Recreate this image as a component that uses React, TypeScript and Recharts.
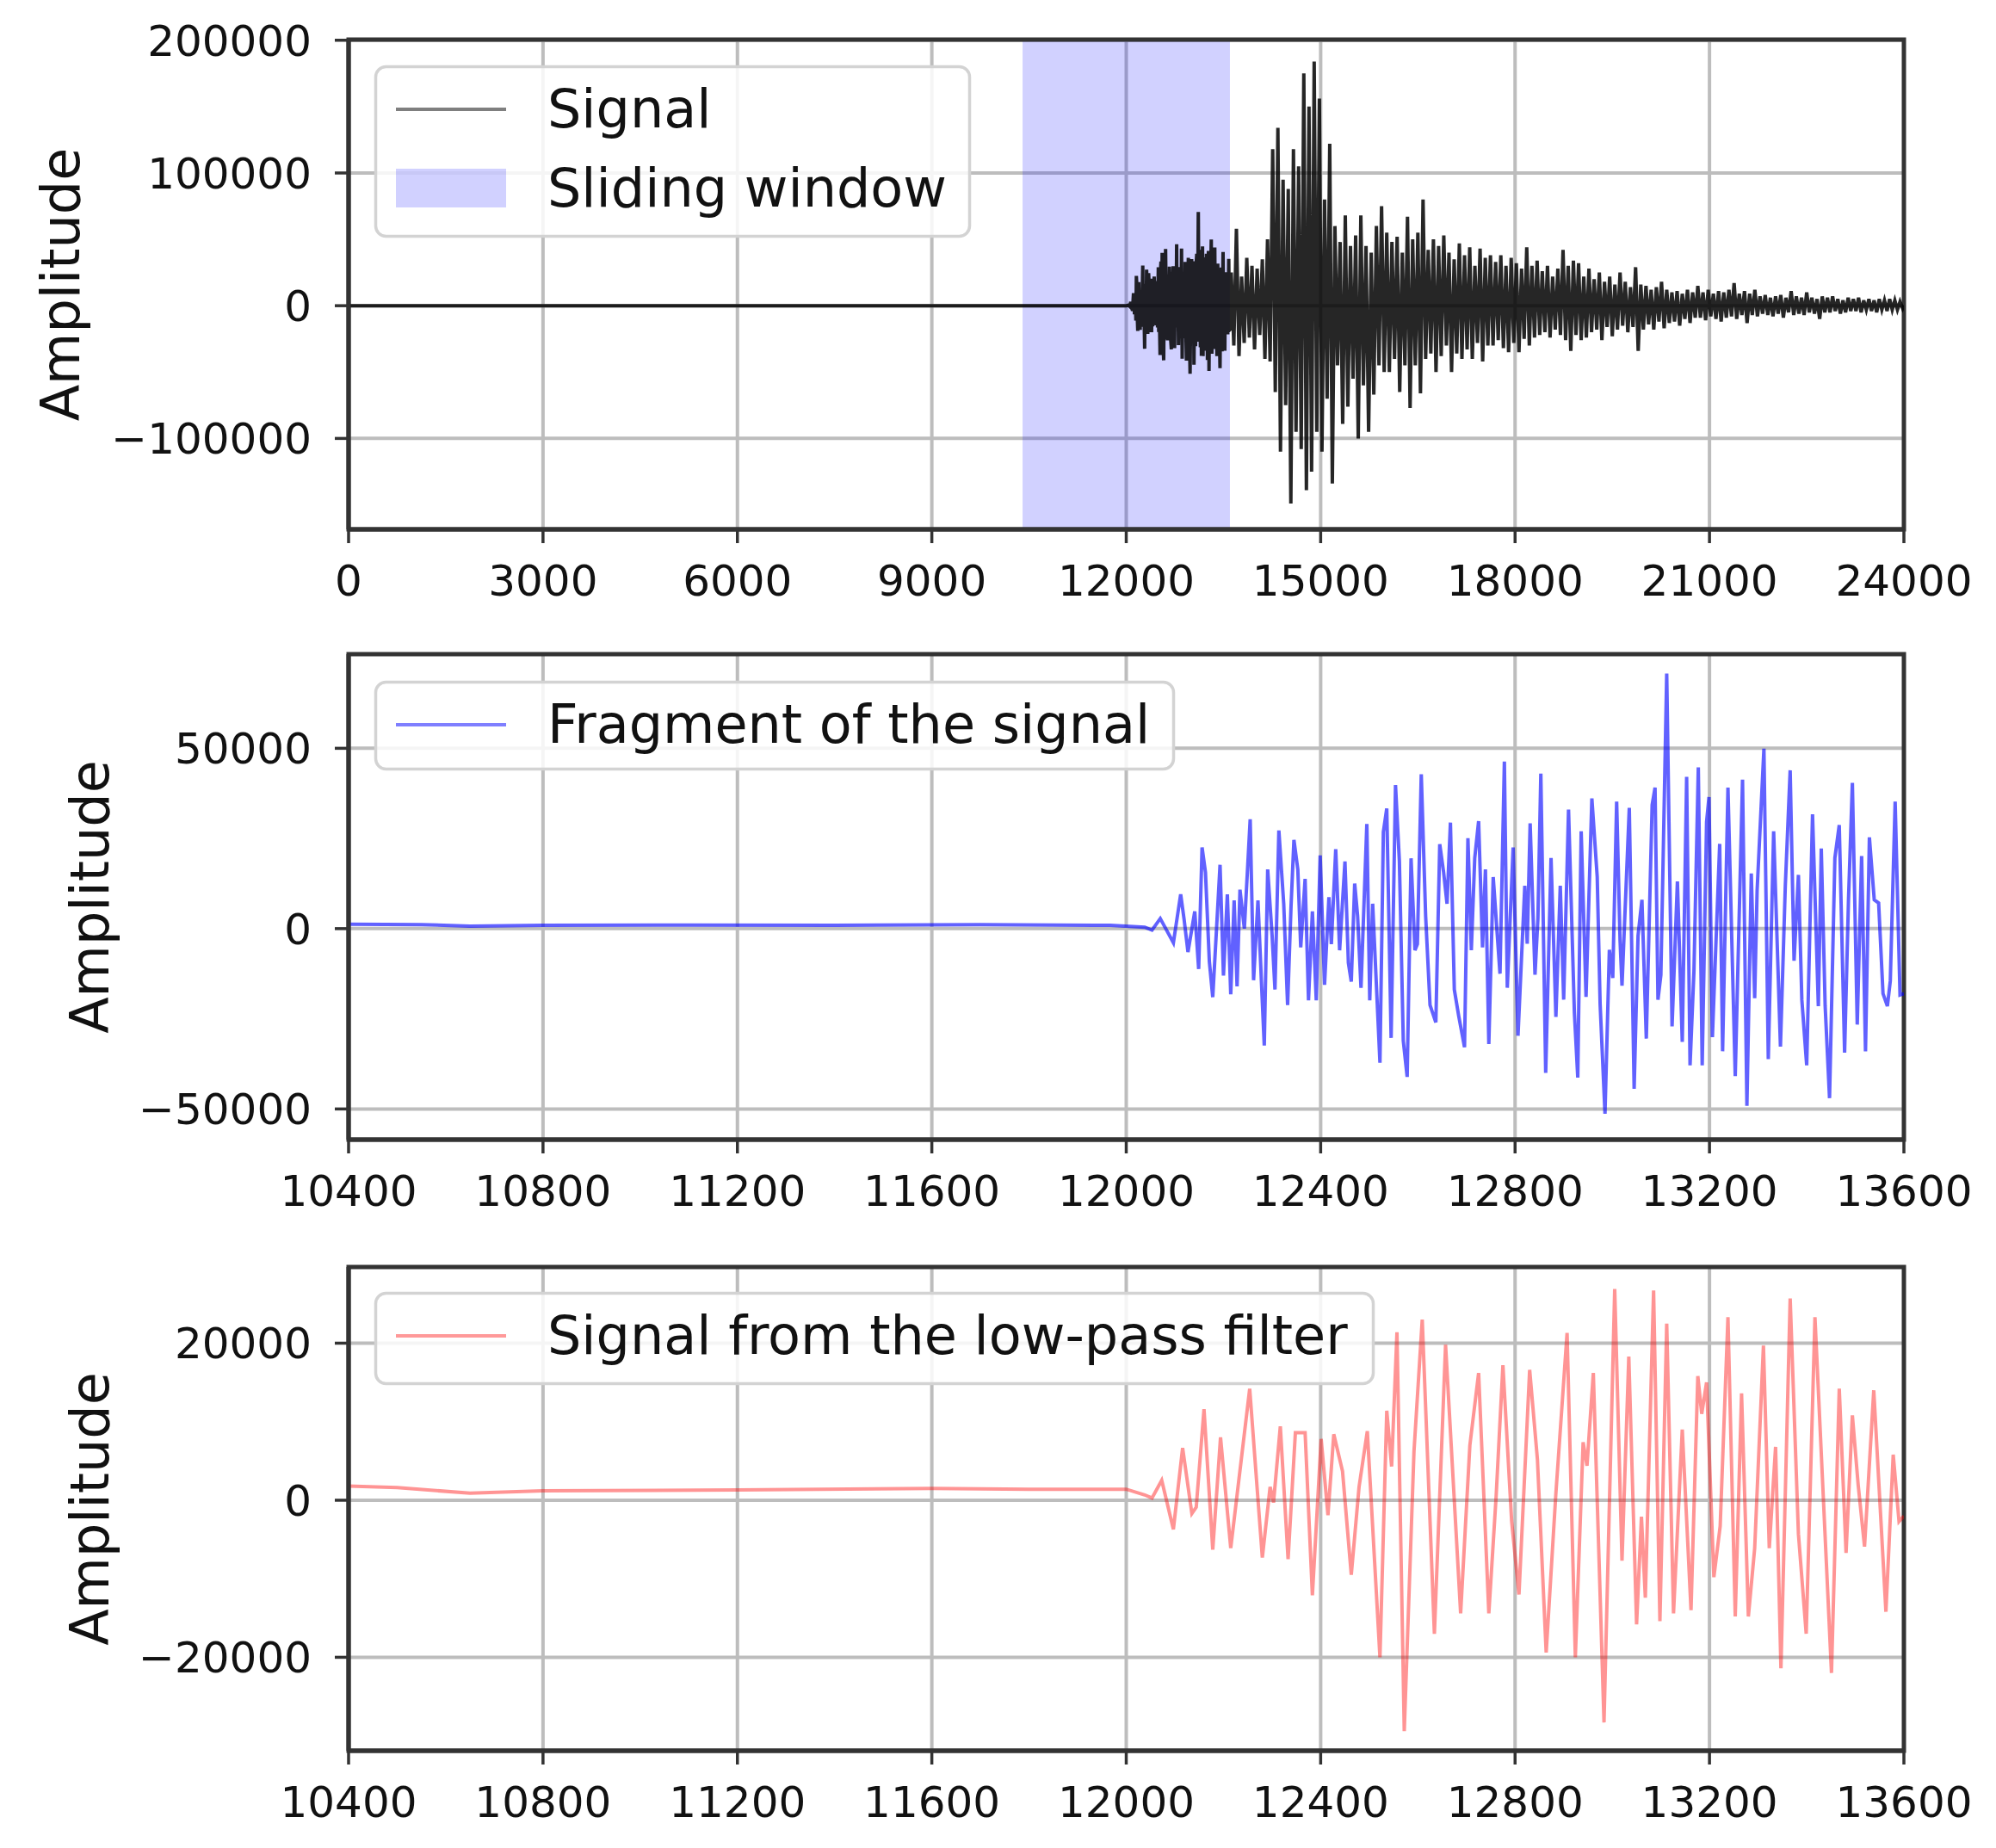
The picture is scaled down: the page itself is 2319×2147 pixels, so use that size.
import React from 'react';
import { LineChart, Line, XAxis, YAxis, CartesianGrid, ReferenceArea, Legend } from 'recharts';

const FONT = '"DejaVu Sans", "Liberation Sans", sans-serif';

// ---------- axes ----------
const topXTicks = [0, 3000, 6000, 9000, 12000, 15000, 18000, 21000, 24000];
const topXDomain = [0, 24000];
const topYTicks = [-100000, 0, 100000, 200000];
const topYDomain = [-168500, 200500];
const windowRange = [10400, 13600];

const zoomXTicks = [10400, 10800, 11200, 11600, 12000, 12400, 12800, 13200, 13600];
const zoomXDomain = [10400, 13600];
const fragYTicks = [-50000, 0, 50000];
const fragYDomain = [-58500, 76100];
const lowYTicks = [-20000, 0, 20000];
const lowYDomain = [-31900, 29700];

// ---------- full signal (top panel) ----------
const signalLeadT = [0, 4000, 8000, 12000];
const signalLeadA = [0, 0, 0, 0];
const tailStart = 13620;
const tailStep = 40;
const tailA = [
  25000, -30000, 58000, -38000, 22000, -28000, 36000, -24000, 30000, -33000,
  28000, -22000, 35000, -40000, 50000, -42000, 118000, -65000, 134000, -110000,
  95000, -75000, 88000, -149000, 118000, -95000, 105000, -108000, 175000, -139000,
  150000, -125000, 184000, -95000, 156000, -110000, 80000, -70000, 122000, -134000,
  60000, -45000, 48000, -89000, 68000, -76000, 45000, -55000, 53000, -100000,
  68000, -60000, 45000, -95000, 40000, -67000, 60000, -45000, 75000, -50000,
  55000, -50000, 48000, -40000, 52000, -65000, 40000, -45000, 67000, -77000,
  50000, -45000, 55000, -66000, 80000, -40000, 42000, -36000, 50000, -50000,
  45000, -38000, 53000, -30000, 40000, -50000, 35000, -36000, 47000, -40000,
  38000, -33000, 44000, -40000, 30000, -28000, 43000, -42000, 36000, -30000,
  38000, -30000, 33000, -26000, 38000, -32000, 30000, -35000, 36000, -28000,
  32000, -35000, 28000, -25000, 44000, -30000, 30000, -24000, 34000, -22000,
  26000, -20000, 30000, -24000, 22000, -18000, 28000, -22000, 42000, -26000,
  30000, -34000, 34000, -22000, 32000, -26000, 22000, -24000, 28000, -20000,
  20000, -18000, 25000, -26000, 18000, -16000, 22000, -23000, 16000, -18000,
  25000, -15000, 18000, -20000, 14000, -16000, 29000, -34000, 16000, -18000,
  15000, -14000, 12000, -18000, 14000, -12000, 18000, -17000, 12000, -13000,
  10000, -12000, 11000, -15000, 9000, -10000, 12000, -13000, 10000, -9000,
  15000, -9000, 10000, -11000, 12000, -8000, 9000, -10000, 11000, -12000,
  10000, -9000, 12000, -8000, 17000, -10000, 9000, -7000, 11000, -13000,
  9000, -7000, 12000, -8000, 7000, -6000, 8000, -7000, 6000, -8000,
  7000, -6000, 8000, -9000, 6000, -5000, 11000, -7000, 7000, -6000,
  6000, -7000, 10000, -5000, 6000, -6000, 5000, -10000, 7000, -5000,
  6000, -5000, 7000, -4000, 5000, -6000, 4000, -5000, 6000, -4000,
  5000, -4000, 6000, -5000, 4000, -3000, 5000, -4000, 4000, -5000,
  5000, -3000, 4000, -4000, 5000, -3000, 4000, -3000, 3000, -2000,
];
const signalEndT = [24000];
const signalEndA = [500];

// ---------- fragment of the signal (middle panel) ----------
const fragT = [
  10400, 10550, 10650, 10800, 11100, 11400, 11700, 11967,
  12038, 12053, 12070, 12097, 12112, 12119, 12127, 12141, 12149, 12156,
  12163, 12171, 12178, 12193, 12200, 12208, 12215, 12222, 12228, 12234,
  12243, 12255, 12262, 12271, 12278, 12284, 12291, 12300, 12306, 12314,
  12324, 12332, 12339, 12345, 12353, 12359, 12368, 12375, 12383, 12391,
  12399, 12408, 12417, 12422, 12431, 12439, 12450, 12457, 12463, 12470,
  12476, 12483, 12495, 12501, 12507, 12522, 12529, 12536, 12545, 12554,
  12562, 12570, 12578, 12586, 12594, 12599, 12607, 12616, 12625, 12637,
  12645, 12653, 12660, 12667, 12675, 12684, 12696, 12703, 12710, 12717,
  12725, 12733, 12739, 12746, 12755, 12769, 12778, 12784, 12796,
  12806, 12820, 12825, 12831, 12841, 12847, 12853, 12863, 12874, 12884,
  12893, 12900, 12910, 12922, 12929, 12936, 12946, 12952, 12958, 12969,
  12975, 12985, 12994, 13001, 13009, 13016, 13020, 13035, 13045, 13053,
  13061, 13070, 13082, 13088, 13094, 13100, 13112, 13123, 13134, 13144,
  13153, 13160, 13168, 13177, 13185, 13194, 13199, 13206, 13221, 13227,
  13238, 13253, 13268, 13277, 13286, 13293, 13298, 13312, 13321, 13332,
  13346, 13356, 13366, 13374, 13383, 13390, 13400, 13412, 13424, 13430,
  13438, 13447, 13458, 13467, 13478, 13486, 13494, 13504, 13513, 13521,
  13529, 13539, 13548, 13557, 13566, 13572, 13582, 13592, 13600,
];
const fragA = [
  1200, 1100, 700, 900, 1000, 900, 1100, 900,
  400, -400, 2800, -3900, 9500, 2600, -6500, 4800, -11200, 22500,
  15600, -9100, -19000, 17700, -13000, 9500, -18200, 7800, -16000, 10800,
  0, 30300, -14300, 7800, -14300, -32400, 16400, -1700, -16900, 27200,
  6900, -21200, 6000, 24600, 16400, -5200, 13800, -19900, 4800, -19900,
  20300, -15600, 8700, -4300, 22000, -6000, 18600, -9500, -14700, 12500,
  3500, -16400, 29000, -19900, 6900, -37200, 26800, 33300, -30300, 39800,
  18600, -31100, -41100, 19500, -6000, -4300, 42800, 3500, -21200, -26000,
  23400, 15600, 6900, 29400, -16900, -24200, -32900, 25100, -6000, 19500,
  29800, -5200, 16400, -32000, 14300, -12500, 46300, -16400, 22500,
  -29700, 11900, -4200, 29200, -12800, 2800, 43000, -40000, 19600, -24500,
  11900, -19700, 33000, -23200, -41300, 27000, -18900, 8800, 36100, 14400,
  -21000, -51300, -5900, -13700, 35200, -3300, -15800, 33500, -44400, -2000,
  8000, -30500, 34300, 39100, -19700, -12800, 70700, -27100, 13100, -31400,
  42100, -37900, -11900, 44700, -37900, 29600, 36500, -30100, 23500, -34000,
  39100, -40900, 41300, -49100, 15300, -19300, 10600, 49900, -36200, 27000,
  -32700, 11900, 43900, -8900, 14900, -19700, -37900, 31700, -21500, 22200,
  -21500, -47000, 19600, 28700, -34400, 8000, 40400, -26600, 20100, -34000,
  25300, 8000, 7100, -18000, -21500, -14500, 35200, -18400, -18000,
];

// ---------- signal from the low-pass filter (bottom panel) ----------
const lowT = [
  10400, 10500, 10650, 10800, 11200, 11600, 11800, 12000,
  12038, 12053, 12073, 12097, 12116, 12135, 12144, 12160, 12178, 12194,
  12215, 12254, 12280, 12296, 12303, 12317, 12333, 12348, 12368, 12383,
  12401, 12415, 12427, 12445, 12463, 12479, 12496, 12522, 12536, 12546,
  12557, 12572, 12592, 12609, 12634, 12657, 12688, 12707, 12725, 12746,
  12761, 12775, 12793,
  12808, 12830, 12846, 12864, 12884, 12907, 12924, 12940, 12948, 12961,
  12983, 13005, 13020, 13034, 13050, 13060, 13068, 13085, 13098, 13112,
  13126, 13144, 13162, 13176, 13184, 13194, 13209, 13222, 13238, 13253,
  13266, 13280, 13293, 13311, 13323, 13336, 13347, 13366, 13383, 13399,
  13417, 13451, 13467, 13481, 13494, 13506, 13519, 13538, 13563, 13578,
  13590, 13600,
];
const lowA = [
  1800, 1600, 900, 1200, 1300, 1500, 1400, 1400,
  680, 280, 2550, -3700, 6650, -1700, -900, 11600, -6300, 8000,
  -6100, 14200, -7300, 1700, -300, 9400, -7500, 8600, 8600, -12100,
  7800, -1900, 8400, 3700, -9500, 1700, 8800, -20000, 11400, 4300,
  21400, -29400, 6200, 23000, -17000, 19800, -14400, 7000, 16200, -14400,
  480, 17200, -2700,
  -12000, 16600, 5200, -19400, 900, 21300, -20000, 7400, 4400, 16200,
  -28300, 26900, -7700, 18300, -15800, -2100, -12400, 26700, -15400, 22500,
  -14400, 9000, -14000, 15800, 11000, 15000, -9800, -3300, 23300, -14800,
  13600, -14800, -6100, 19700, -6100, 6800, -21400, 25700, -4300, -17000,
  23300, -22000, 14200, -6700, 10800, 1900, -5900, 14000, -14200, 5800,
  -2700, -2000,
];

// ---------- tables for the library ----------
const topData = [
  ...signalLeadT.map((t, i) => ({ t, v: signalLeadA[i] })),
  ...fragT.map((t, i) => ({ t, v: fragA[i] })).filter((d) => d.t > 12030),
  ...tailA.map((v, i) => ({ t: tailStart + i * tailStep, v })),
  ...signalEndT.map((t, i) => ({ t, v: signalEndA[i] })),
];
const fragData = fragT.map((t, i) => ({ t, v: fragA[i] }));
const lowData = lowT.map((t, i) => ({ t, v: lowA[i] }));

const fmt = (v: number) => (v < 0 ? '\u2212' + Math.abs(v) : String(v));

const tickStyle = { fontSize: 50, fill: '#111', fontFamily: FONT };
const tickLineStyle = { stroke: '#333', strokeWidth: 3.5 };
const axisLineStyle = { stroke: '#333', strokeWidth: 5 };

function AmpLabel(props: any) {
  const { viewBox, cx } = props;
  const y = viewBox.y + viewBox.height / 2;
  return (
    <text
      x={cx}
      y={y}
      transform={`rotate(-90 ${cx} ${y})`}
      textAnchor="middle"
      dominantBaseline="central"
      fontSize={62}
      fontFamily={FONT}
      fill="#111"
    >
      Amplitude
    </text>
  );
}

type Item = { label: string; kind: 'line' | 'patch'; color: string; opacity: number };

function LegendBox({ w, h, items }: { w: number; h: number; items: Item[] }) {
  return (
    <svg width={w} height={h} style={{ display: 'block', overflow: 'visible' }}>
      <rect x={1.5} y={1.5} width={w - 3} height={h - 3} rx={12} ry={12}
        fill="rgba(255,255,255,0.85)" stroke="#d3d3d3" strokeWidth={3.5} />
      {items.map((it, i) => {
        const cy = 51 + i * 92;
        return (
          <g key={it.label}>
            {it.kind === 'line' ? (
              <line x1={25} x2={153} y1={cy} y2={cy} stroke={it.color} strokeOpacity={it.opacity} strokeWidth={4} />
            ) : (
              <rect x={25} y={cy - 23} width={128} height={45} fill={it.color} fillOpacity={it.opacity} />
            )}
            <text x={201} y={cy + 21} fontSize={62} fontFamily={FONT} fill="#111">
              {it.label}
            </text>
          </g>
        );
      })}
    </svg>
  );
}

type PanelProps = {
  top: number;
  height: number;
  marginTop: number;
  marginBottom: number;
  data: { t: number; v: number }[];
  xDomain: number[];
  xTicks: number[];
  yDomain: number[];
  yTicks: number[];
  color: string;
  opacity: number;
  strokeWidth: number;
  labelX: number;
  legendTop: number;
  legendW: number;
  legendH: number;
  items: Item[];
  shade?: number[];
};

function Panel(p: PanelProps) {
  return (
    <div style={{ position: 'absolute', left: 0, top: p.top, width: 2319, height: p.height }}>
      <LineChart
        width={2319}
        height={p.height}
        data={p.data}
        margin={{ top: p.marginTop, right: 107, bottom: p.marginBottom, left: 0 }}
      >
        <CartesianGrid stroke="#bdbdbd" strokeWidth={4} />
        {p.shade ? (
          <ReferenceArea x1={p.shade[0]} x2={p.shade[1]} y1={p.yDomain[0]} y2={p.yDomain[1]}
            fill="blue" fillOpacity={0.18} stroke="none" ifOverflow="visible" />
        ) : null}
        <XAxis
          dataKey="t"
          type="number"
          domain={p.xDomain}
          ticks={p.xTicks}
          interval={0}
          allowDataOverflow
          height={90}
          tick={tickStyle}
          tickLine={tickLineStyle}
          axisLine={axisLineStyle}
          tickSize={16}
          tickMargin={25}
          tickFormatter={fmt}
        />
        <YAxis
          type="number"
          domain={p.yDomain}
          ticks={p.yTicks}
          interval={0}
          allowDataOverflow
          width={405}
          tick={tickStyle}
          tickLine={tickLineStyle}
          axisLine={axisLineStyle}
          tickSize={16}
          tickMargin={27}
          tickFormatter={fmt}
          label={<AmpLabel cx={p.labelX} />}
        />
        <Line
          type="linear"
          dataKey="v"
          stroke={p.color}
          strokeOpacity={p.opacity}
          strokeWidth={p.strokeWidth}
          strokeLinejoin="miter"
          dot={false}
          activeDot={false}
          isAnimationActive={false}
        />
        <ReferenceArea x1={p.xDomain[0]} x2={p.xDomain[1]} y1={p.yDomain[0]} y2={p.yDomain[1]}
          fill="none" stroke="#333" strokeWidth={5} ifOverflow="visible" />
        <Legend
          layout="vertical"
          align="center"
          verticalAlign="middle"
          wrapperStyle={{ left: 435, top: p.legendTop, width: p.legendW, height: p.legendH }}
          content={() => <LegendBox w={p.legendW} h={p.legendH} items={p.items} />}
        />
      </LineChart>
    </div>
  );
}

export default function App() {
  return (
    <div style={{ position: 'absolute', left: 0, top: 0, width: 2319, height: 2147, background: '#fff' }}>
      <style>{'body{margin:0;background:#fff}'}</style>
      <Panel
        top={0}
        height={720}
        marginTop={46}
        marginBottom={15}
        data={topData}
        xDomain={topXDomain}
        xTicks={topXTicks}
        yDomain={topYDomain}
        yTicks={topYTicks}
        color="#000"
        opacity={0.85}
        strokeWidth={4}
        labelX={70}
        legendTop={76}
        legendW={693}
        legendH={200}
        shade={windowRange}
        items={[
          { label: 'Signal', kind: 'line', color: '#000', opacity: 0.5 },
          { label: 'Sliding window', kind: 'patch', color: 'blue', opacity: 0.18 },
        ]}
      />
      <Panel
        top={720}
        height={710}
        marginTop={40}
        marginBottom={16}
        data={fragData}
        xDomain={zoomXDomain}
        xTicks={zoomXTicks}
        yDomain={fragYDomain}
        yTicks={fragYTicks}
        color="blue"
        opacity={0.62}
        strokeWidth={4}
        labelX={104}
        legendTop={71}
        legendW={930}
        legendH={104}
        items={[{ label: 'Fragment of the signal', kind: 'line', color: 'blue', opacity: 0.5 }]}
      />
      <Panel
        top={1430}
        height={717}
        marginTop={42}
        marginBottom={23}
        data={lowData}
        xDomain={zoomXDomain}
        xTicks={zoomXTicks}
        yDomain={lowYDomain}
        yTicks={lowYTicks}
        color="red"
        opacity={0.42}
        strokeWidth={4}
        labelX={104}
        legendTop={71}
        legendW={1162}
        legendH={108}
        items={[{ label: 'Signal from the low-pass filter', kind: 'line', color: 'red', opacity: 0.4 }]}
      />
    </div>
  );
}
